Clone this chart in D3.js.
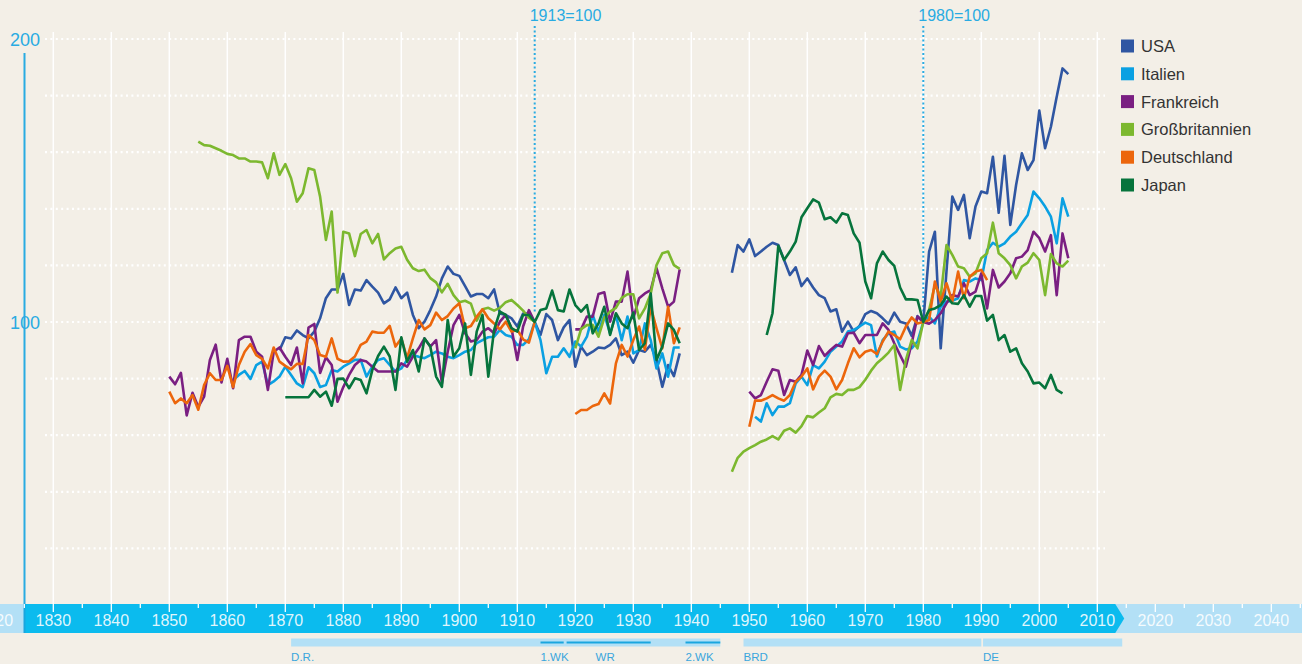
<!DOCTYPE html>
<html>
<head>
<meta charset="utf-8">
<script src="https://cdn.jsdelivr.net/npm/d3@7"></script>
<style>
  body { margin: 0; background: #f3efe7; }
  #chart { width: 1302px; height: 664px; }
  text { font-family: "Liberation Sans", Arial, sans-serif; }
</style>
</head>
<body>
<div id="chart"></div>
<script>
// countries in legend order with their colours
const countries = ["USA", "Italien", "Frankreich", "Großbritannien", "Deutschland", "Japan"];
const colors = ["#2f56a2", "#0aa0e2", "#7a1f82", "#7cb82f", "#ec660c", "#06743c"];

// index values before the war (1913 = 100), one value per year from the start year
const usaPre = [90, 94.6, 94.2, 97, 95.4, 94.2, 96.6, 101.3, 108.4, 111.5, 111.5, 117, 106, 111.5, 111.1,
  114.8, 112.5, 110.4, 106.6, 108, 112.2, 108.4, 110.4, 102.5, 97.8, 100.1, 104.2, 109, 115.4, 119.6, 117,
  116.3, 112.7, 109, 109.9, 109.9, 108.4, 111.5, 103, 102.5, 101.3, 98.4, 103, 103, 100, 95.4, 102.8, 100.7,
  93.6, 98.1, 100.7, 84.2, 91.3, 88.3, 89.5, 91, 90.7, 91.9, 94.2, 88.3, 89.5, 85.6, 90.1, 89.5, 91.9, 86.6,
  77.1, 84.8, 80.9, 88.9];
const italyPre = [79.5, 81.3, 82.7, 79.9, 84.8, 86, 77.7, 79, 80.7, 84.2, 81.3, 78.3, 77, 84, 81.9, 77, 77.7,
  83, 82.5, 84.2, 85.4, 86.6, 86.6, 80.7, 84.2, 86.6, 87.2, 84.8, 82.5, 83.6, 86.6, 88.3, 87.7, 87.2, 88.3,
  89.5, 88.9, 87.7, 87.2, 88.3, 89.5, 90.1, 92.5, 93.6, 94.6, 94.8, 97.2, 95.4, 94.8, 91.9, 91.9, 93.9, 100,
  93.6, 81.9, 87.7, 87.7, 90.7, 87.7, 93.1, 91.3, 94.8, 102.5, 96.6, 102.5, 96, 102.5, 93.6, 101.9, 88.9,
  90.1, 99.5, 93.6, 83.6, 88.9, 80.7, 91, 91];
const francePre = [80.7, 78, 82, 67, 75, 70, 73.6, 86.6, 92, 78.6, 87, 76.6, 93.6, 94.8, 94.8, 89.5, 87.7, 76,
  89.5, 91, 87.7, 84.8, 91, 78.3, 98, 99.3, 82, 87.5, 84.8, 71.8, 77, 81.3, 84.8, 86.6, 86, 84.2, 82.5, 82.5,
  82.5, 82.5, 85.4, 84.2, 87.8, 90.7, 94.2, 91.3, 93.6, 78.3, 89.5, 98.9, 102.5, 96, 93.1, 93.6, 96.6, 97.8,
  96, 100.1, 102.5, 97.8, 86.6, 98.4, 104.2, 100, null, null, null, null, null, null, 97.4, 97.4, 101.9,
  101.9, 109.9, 110.5, 100.1, 107.2, 107.2, 117.8, 101.3, 108.4, 110.1, 111.3, 119, 111.9, 105.4, 107.2, 118.6];
const britainPre = [163.7, 162.5, 162.3, 161.4, 160.5, 159.4, 159, 157.8, 157.8, 156.7, 156.7, 156.4, 150.8,
  159.6, 152, 155.8, 150.8, 142.5, 145.5, 154.3, 153.7, 144.3, 129, 139, 110.4, 131.9, 131.3, 123.3, 131.1,
  132.5, 127.8, 131.1, 122.1, 124.3, 126, 126.6, 122, 119, 118, 118.5, 115.5, 114, 110.5, 113.5, 109.5, 107,
  107.5, 106.5, 100.5, 104.5, 105, 104, 105, 107, 107.8, 106, 104, 101.5, 100, null, null, null, null, null,
  null, 90.7, 97.5, 98.9, 99, 94.8, 101.5, 103.7, 105, 108.5, 109.8, 109.8, 101.3, 104.8, 110, 120.1, 124.3,
  124.9, 120.1, 118.8];
const germanyPre = [75.4, 71.3, 73, 71.3, 74.2, 69, 77.7, 81.9, 79.5, 79.5, 84.5, 77, 84.8, 89.5, 92.2, 88.3,
  87, 83.6, 91, 86, 84.5, 83.3, 85.2, 85.2, 95.4, 93.6, 88.3, 87.7, 94.2, 87, 86, 86.1, 87.8, 91.9, 93.1,
  96.6, 96.2, 96.2, 98.6, 91.3, 94.2, 87.2, 94.2, 100.7, 97.4, 98.9, 103.3, 100.7, 102.1, 104.8, 106.6, 97.8,
  98.6, 101.9, 104.5, 101.3, 99.5, 97.4, 100.1, 96.6, 97.2, 93.9, 92.7, 100, null, null, null, null, null,
  null, 67.5, 68.9, 68.9, 70.3, 71, 74.8, 71.2, 85.4, 91.9, 87.8, 93.6, 98.4, 90.1, 105.4, 97.8, 90.7, 105.4,
  92.5, 98.1];
const japanPre = [73.4, 73.4, 73.4, 73.4, 73.4, 76, 73.6, 75.4, 70.4, 79.9, 80, 76.6, 80.1, 79.5, 74.8, 83, 88,
  91.3, 87.8, 76, 94.6, 86, 90.1, 82.5, 94.2, 91.3, 80.7, 77.1, 100.7, 87.8, 90.7, 99.5, 81.3, 96.6, 102.5,
  80.7, 97.2, 103.7, 102.5, 97.8, 96.6, 102.5, 102.5, 100, 104.2, 104.8, 111.1, 104.2, 103.7, 111.5, 106,
  103.7, 106, 96, 99.5, 105.4, 95.4, 103.1, 99.5, 97.8, 103.3, 90.1, 92.5, 110.1, 86.6, 91.3, 99.5, 97.2, 92.5];

// index values after the war (1980 = 100)
const usaPost = [117.4, 127.2, 124.9, 129.2, 123.3, 124.9, 126.6, 128, 127.2, 121.9, 116.6, 119.3, 112.7,
  115.4, 112.2, 109.5, 108.4, 103.7, 104.5, 96.6, 100.1, 96.6, 98.6, 102.8, 103.9, 103.1, 101.3, 99.3, 103.3,
  100.1, 99.5, 95.1, 102.1, 100, 124.9, 131.9, 90.7, 118, 144.3, 139.6, 144.9, 129.6, 140.8, 146.1, 145.5,
  158.4, 138.6, 158.7, 134.3, 148.4, 159.6, 153.7, 157.2, 174.7, 161.4, 169, 179.6, 189.6, 187.6];
const italyPost = [66.5, 64.8, 71.3, 67.1, 70.1, 70.1, 71.3, 78.3, 80.7, 77.7, 84.8, 83.6, 86, 89.5, 91.3,
  93.1, 96.6, 97.2, 98.4, 99.8, 98.9, 87.8, 93.6, 96, 96.6, 91.3, 90.3, 90.7, 93.1, 100, 101.9, 99.5, 105.4,
  107.2, 107.5, 108.4, 114.8, 114.3, 115.4, 114.8, 125.4, 128, 126.6, 127.8, 130.2, 131.9, 134.9, 137.8,
  146.1, 143.7, 140.8, 137.2, 127.8, 143.7, 137.2];
const francePost = [75.4, 73, 74.2, 78.9, 83.3, 82.8, 74.2, 79.5, 78.9, 81.3, 89.9, 84.8, 91.5, 88, 90.1,
  91.9, 91.3, 96, 96.2, 92.5, 95.4, 95.4, 95.4, 99.5, 97.2, 92.5, 88.3, 84.2, 92.5, 101.9, 100, 99.4, 100.7,
  103.1, 106.6, 109.5, 109, 113.7, 109.5, 110.7, 117.2, 104.8, 118.4, 112.2, 114.3, 117.2, 122.5, 123.1,
  125.4, 131.9, 129.6, 124.9, 130.7, 109.5, 131.3, 122.5];
const britainPost = [47.1, 52, 54.2, 55.4, 56.5, 57.7, 58.5, 59.7, 58.5, 61.6, 62.4, 60.9, 63.2, 66.8, 66.3,
  68, 69.5, 73.4, 74.6, 74.2, 76, 76, 77, 79.6, 82.8, 85.4, 87.2, 89.2, 91.9, 76, 86.6, 93.6, 90.7, 100,
  104.2, 113.1, 109, 127.2, 123.7, 119.6, 119, 116, 117.2, 122.5, 124.3, 135.1, 124.3, 122.5, 120.1, 115.4,
  119.6, 121, 124.3, 121.9, 109.5, 124, 120.7, 119.6, 121.7];
const germanyPost = [63, 72.2, 72.2, 73, 74.2, 73, 72.2, 74.2, 78.9, 80.7, 83.6, 76.2, 80.7, 82.8, 80.7, 76.2,
  79.5, 85.4, 90.7, 87.5, 89.5, 90.1, 88.7, 93.1, 96.6, 95.4, 93.9, 98.4, 101.6, 99.5, 100, 100.7, 114.3,
  107.2, 113.7, 107.2, 117.8, 108.4, 116, 117.8, 118.4, 114.8];
const japanPost = [95.4, 103.1, 126.9, 121.9, 124.9, 128.4, 137, 140.2, 143.3, 142.2, 136.3, 137, 135.1,
  138.4, 137.8, 131.3, 128, 114.3, 108.4, 120.7, 124.9, 121.9, 119.8, 112.2, 108, 108, 107.8, 100, 104.2,
  104.8, 106, 109, 106.6, 106.4, 109.5, 105.4, 109.2, 109.2, 100.5, 102.5, 93.6, 95.4, 89.5, 90.7, 85.4,
  82.5, 78.3, 78.6, 76.6, 81.3, 76, 74.8];

// first year of each array above
const startPre = [1869, 1861, 1850, 1855, 1850, 1870];
const startPost = [1947, 1951, 1950, 1947, 1950, 1953];

// axis ticks and labels
const gridValues = [20, 40, 60, 80, 100, 120, 140, 160, 180, 200];
const valueLabels = [100, 200];
const gridYears = [1830, 1840, 1850, 1860, 1870, 1880, 1890, 1900, 1910, 1920, 1930, 1940, 1950, 1960, 1970,
  1980, 1990, 2000, 2010];
const barYears = [1820, 1830, 1840, 1850, 1860, 1870, 1880, 1890, 1900, 1910, 1920, 1930, 1940, 1950, 1960,
  1970, 1980, 1990, 2000, 2010, 2020, 2030, 2040];
const baseYears = [1913, 1980];
const baseLabels = ["1913=100", "1980=100"];

// historical periods shown under the time bar
const periodNames = ["D.R.", "BRD", "DE"];
const periodFrom = [1871, 1949, 1990.3];
const periodTo = [1945, 1990, 2014.3];
const eventNames = ["1.WK", "WR", "2.WK"];
const eventFrom = [1914, 1918.5, 1939];
const eventTo = [1918, 1933, 1945];
const eventLabelYear = [1914, 1923.5, 1939];

const width = 1302;
const height = 664;

const svg = d3.select("#chart")
  .append("svg")
  .attr("width", width)
  .attr("height", height);

const xScale = d3.scaleLinear()
  .domain([1830, 1980])
  .range([53.3, 923.3]);

const yScale = d3.scaleLinear()
  .domain([0, 200])
  .range([605, 39]);

const barTop = 604;
const barBottom = 633;

// vertical white grid lines, one per decade
svg.selectAll(".vgrid")
  .data(gridYears)
  .enter()
  .append("line")
  .attr("class", "vgrid")
  .attr("x1", d => xScale(d))
  .attr("x2", d => xScale(d))
  .attr("y1", 32)
  .attr("y2", barTop)
  .attr("stroke", "#ffffff")
  .attr("stroke-width", 1.5);

// dotted horizontal grid lines
svg.selectAll(".hgrid")
  .data(gridValues)
  .enter()
  .append("line")
  .attr("class", "hgrid")
  .attr("x1", 45)
  .attr("x2", 1105)
  .attr("y1", d => yScale(d))
  .attr("y2", d => yScale(d))
  .attr("stroke", "#ffffff")
  .attr("stroke-width", 2.2)
  .attr("stroke-dasharray", "2,3.4");

// value axis line and labels
svg.append("line")
  .attr("x1", 24.5)
  .attr("x2", 24.5)
  .attr("y1", 53)
  .attr("y2", barTop)
  .attr("stroke", "#29abe2")
  .attr("stroke-width", 2);

svg.selectAll(".vlabel")
  .data(valueLabels)
  .enter()
  .append("text")
  .attr("class", "vlabel")
  .attr("x", 25)
  .attr("y", d => yScale(d) + 7)
  .attr("text-anchor", "middle")
  .attr("fill", "#29abe2")
  .style("font-size", "18px")
  .text(d => d);

// base year markers
svg.selectAll(".base")
  .data(baseYears)
  .enter()
  .append("line")
  .attr("class", "base")
  .attr("x1", d => xScale(d))
  .attr("x2", d => xScale(d))
  .attr("y1", 26)
  .attr("y2", yScale(100) - 10)
  .attr("stroke", "#29abe2")
  .attr("stroke-width", 2)
  .attr("stroke-dasharray", "2,2.5");

svg.selectAll(".baseLabel")
  .data(baseYears)
  .enter()
  .append("text")
  .attr("class", "baseLabel")
  .attr("x", d => xScale(d) - 5)
  .attr("y", 21)
  .attr("fill", "#29abe2")
  .style("font-size", "16px")
  .text((d, i) => baseLabels[i]);

// time bar: light background, dark arrow up to today
svg.append("rect")
  .attr("x", 0)
  .attr("y", barTop)
  .attr("width", width)
  .attr("height", barBottom - barTop)
  .attr("fill", "#b3e0f6");

const arrowEnd = xScale(2013.1);
const arrowTip = xScale(2014.65);
svg.append("path")
  .attr("d", `M24,${barTop}H${arrowEnd}L${arrowTip},${(barTop + barBottom) / 2}L${arrowEnd},${barBottom}H24Z`)
  .attr("fill", "#0bbbee");

svg.append("line")
  .attr("x1", 24.5)
  .attr("x2", 24.5)
  .attr("y1", barTop)
  .attr("y2", barBottom)
  .attr("stroke", "#1aa6df")
  .attr("stroke-width", 2);

// ticks on the time bar, long for decades and short in between
const halfYears = barYears.map(d => d + 5);
svg.selectAll(".tickMajor")
  .data(barYears)
  .enter()
  .append("line")
  .attr("class", "tickMajor")
  .attr("x1", d => xScale(d))
  .attr("x2", d => xScale(d))
  .attr("y1", barTop)
  .attr("y2", barTop + 8)
  .attr("stroke", "#ffffff")
  .attr("stroke-width", 1.3);

svg.selectAll(".tickMinor")
  .data(halfYears)
  .enter()
  .append("line")
  .attr("class", "tickMinor")
  .attr("x1", d => xScale(d))
  .attr("x2", d => xScale(d))
  .attr("y1", barTop)
  .attr("y2", barTop + 4)
  .attr("stroke", "#ffffff")
  .attr("stroke-width", 1.3);

svg.selectAll(".yearLabel")
  .data(barYears)
  .enter()
  .append("text")
  .attr("class", "yearLabel")
  .attr("x", d => xScale(d))
  .attr("y", 626)
  .attr("text-anchor", "middle")
  .attr("fill", "#ffffff")
  .attr("fill-opacity", 0.88)
  .style("font-size", "16px")
  .text(d => d);

// periods below the bar
svg.selectAll(".period")
  .data(periodNames)
  .enter()
  .append("rect")
  .attr("class", "period")
  .attr("x", (d, i) => xScale(periodFrom[i]))
  .attr("y", 638.5)
  .attr("width", (d, i) => xScale(periodTo[i]) - xScale(periodFrom[i]))
  .attr("height", 8)
  .attr("fill", "#b3e0f6");

svg.selectAll(".event")
  .data(eventNames)
  .enter()
  .append("line")
  .attr("class", "event")
  .attr("x1", (d, i) => xScale(eventFrom[i]))
  .attr("x2", (d, i) => xScale(eventTo[i]))
  .attr("y1", 642.5)
  .attr("y2", 642.5)
  .attr("stroke", "#1aa6df")
  .attr("stroke-width", 2);

svg.selectAll(".periodLabel")
  .data(periodNames)
  .enter()
  .append("text")
  .attr("class", "periodLabel")
  .attr("x", (d, i) => xScale(periodFrom[i]))
  .attr("y", 661)
  .attr("fill", "#3aa6dd")
  .style("font-size", "11.5px")
  .text(d => d);

svg.selectAll(".eventLabel")
  .data(eventNames)
  .enter()
  .append("text")
  .attr("class", "eventLabel")
  .attr("x", (d, i) => xScale(eventLabelYear[i]))
  .attr("y", 661)
  .attr("fill", "#3aa6dd")
  .style("font-size", "11.5px")
  .text(d => d);

// build the series from the arrays
const preValues = [usaPre, italyPre, francePre, britainPre, germanyPre, japanPre];
const postValues = [usaPost, italyPost, francePost, britainPost, germanyPost, japanPost];

function toPoints(start, values) {
  return values.map((v, i) => ({ year: start + i, value: v }));
}

const series = countries.map((name, i) => ({
  name: name,
  color: colors[i],
  parts: [toPoints(startPre[i], preValues[i]), toPoints(startPost[i], postValues[i])]
}));

const line = d3.line()
  .defined(d => d.value !== null)
  .x(d => xScale(d.year))
  .y(d => yScale(d.value));

series.forEach(function(s) {
  svg.selectAll(null)
    .data(s.parts)
    .enter()
    .append("path")
    .attr("d", line)
    .attr("fill", "none")
    .attr("stroke", s.color)
    .attr("stroke-width", 2.6)
    .attr("stroke-linejoin", "round");
});

// legend
const legend = svg.selectAll(".legend")
  .data(series)
  .enter()
  .append("g")
  .attr("class", "legend")
  .attr("transform", (d, i) => `translate(1121,${39.5 + i * 27.8})`);

legend.append("rect")
  .attr("width", 13)
  .attr("height", 13)
  .attr("fill", d => d.color);

legend.append("text")
  .attr("x", 20)
  .attr("y", 12.5)
  .attr("fill", "#333333")
  .style("font-size", "16.5px")
  .text(d => d.name);
</script>
</body>
</html>
